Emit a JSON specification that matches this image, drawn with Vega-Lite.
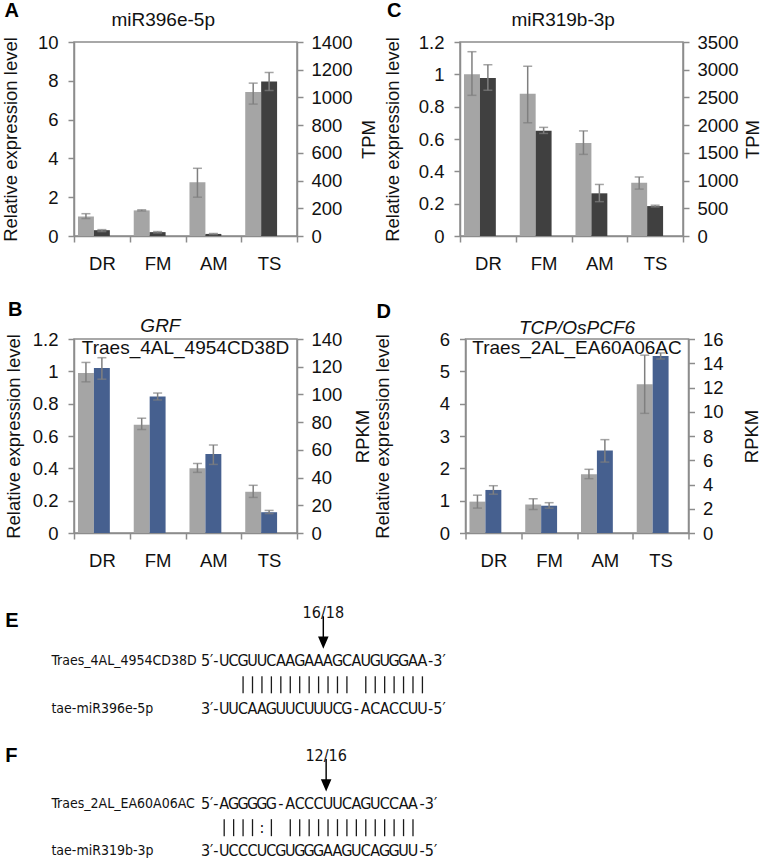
{
  "$schema": "https://vega.github.io/schema/vega-lite/v6.json",
  "padding": {"left": 0, "top": 0, "right": 0, "bottom": 0},
  "datasets": {
    "bars": [
      {"panel": "A", "stage": "DR", "series": "rel", "value": 1.0, "lo": 0.9, "hi": 1.15},
      {"panel": "A", "stage": "FM", "series": "rel", "value": 1.32, "lo": 1.29, "hi": 1.35},
      {"panel": "A", "stage": "AM", "series": "rel", "value": 2.77, "lo": 2.0, "hi": 3.49},
      {"panel": "A", "stage": "TS", "series": "rel", "value": 7.42, "lo": 6.8, "hi": 7.88},
      {"panel": "A", "stage": "DR", "series": "seq", "value": 42, "lo": 32, "hi": 46},
      {"panel": "A", "stage": "FM", "series": "seq", "value": 28, "lo": 22, "hi": 32},
      {"panel": "A", "stage": "AM", "series": "seq", "value": 15, "lo": 11, "hi": 18},
      {"panel": "A", "stage": "TS", "series": "seq", "value": 1115, "lo": 1050, "hi": 1180},
      {"panel": "C", "stage": "DR", "series": "rel", "value": 1.0, "lo": 0.87, "hi": 1.14},
      {"panel": "C", "stage": "FM", "series": "rel", "value": 0.88, "lo": 0.7, "hi": 1.05},
      {"panel": "C", "stage": "AM", "series": "rel", "value": 0.575, "lo": 0.505, "hi": 0.65},
      {"panel": "C", "stage": "TS", "series": "rel", "value": 0.33, "lo": 0.29, "hi": 0.365},
      {"panel": "C", "stage": "DR", "series": "seq", "value": 2850, "lo": 2630, "hi": 3090},
      {"panel": "C", "stage": "FM", "series": "seq", "value": 1900, "lo": 1850, "hi": 1960},
      {"panel": "C", "stage": "AM", "series": "seq", "value": 770, "lo": 620, "hi": 930},
      {"panel": "C", "stage": "TS", "series": "seq", "value": 540, "lo": 525, "hi": 555},
      {"panel": "B", "stage": "DR", "series": "rel", "value": 0.99, "lo": 0.935, "hi": 1.055},
      {"panel": "B", "stage": "FM", "series": "rel", "value": 0.67, "lo": 0.64, "hi": 0.71},
      {"panel": "B", "stage": "AM", "series": "rel", "value": 0.4, "lo": 0.375, "hi": 0.43},
      {"panel": "B", "stage": "TS", "series": "rel", "value": 0.255, "lo": 0.22, "hi": 0.295},
      {"panel": "B", "stage": "DR", "series": "seq", "value": 119, "lo": 111, "hi": 126.5},
      {"panel": "B", "stage": "FM", "series": "seq", "value": 98.5, "lo": 96, "hi": 101},
      {"panel": "B", "stage": "AM", "series": "seq", "value": 57, "lo": 49.5, "hi": 63.5},
      {"panel": "B", "stage": "TS", "series": "seq", "value": 15, "lo": 14, "hi": 16.3},
      {"panel": "D", "stage": "DR", "series": "rel", "value": 0.97, "lo": 0.77, "hi": 1.17},
      {"panel": "D", "stage": "FM", "series": "rel", "value": 0.88, "lo": 0.73, "hi": 1.06},
      {"panel": "D", "stage": "AM", "series": "rel", "value": 1.82, "lo": 1.68, "hi": 1.97},
      {"panel": "D", "stage": "TS", "series": "rel", "value": 4.6, "lo": 3.7, "hi": 5.5},
      {"panel": "D", "stage": "DR", "series": "seq", "value": 3.55, "lo": 3.2, "hi": 3.9},
      {"panel": "D", "stage": "FM", "series": "seq", "value": 2.25, "lo": 2.05, "hi": 2.5},
      {"panel": "D", "stage": "AM", "series": "seq", "value": 6.8, "lo": 5.85, "hi": 7.7},
      {"panel": "D", "stage": "TS", "series": "seq", "value": 14.6, "lo": 14.35, "hi": 14.85}
    ],
    "align": [
      {"k": "L", "line": 0.3, "col": -23.2, "t": "E"},
      {"k": "c", "line": 0, "col": 10.5, "t": "16/18"},
      {"k": "a", "line": 1, "col": 10.5, "t": ""},
      {"k": "n", "line": 2, "col": -18.3, "t": "Traes_4AL_4954CD38D"},
      {"k": "r", "line": 2, "col": -0.6, "t": "5′-"},
      {"k": "c", "line": 2, "col": 0, "t": "U"}, {"k": "c", "line": 2, "col": 1, "t": "C"},
      {"k": "c", "line": 2, "col": 2, "t": "G"}, {"k": "c", "line": 2, "col": 3, "t": "U"},
      {"k": "c", "line": 2, "col": 4, "t": "U"}, {"k": "c", "line": 2, "col": 5, "t": "C"},
      {"k": "c", "line": 2, "col": 6, "t": "A"}, {"k": "c", "line": 2, "col": 7, "t": "A"},
      {"k": "c", "line": 2, "col": 8, "t": "G"}, {"k": "c", "line": 2, "col": 9, "t": "A"},
      {"k": "c", "line": 2, "col": 10, "t": "A"}, {"k": "c", "line": 2, "col": 11, "t": "A"},
      {"k": "c", "line": 2, "col": 12, "t": "G"}, {"k": "c", "line": 2, "col": 13, "t": "C"},
      {"k": "c", "line": 2, "col": 14, "t": "A"}, {"k": "c", "line": 2, "col": 15, "t": "U"},
      {"k": "c", "line": 2, "col": 16, "t": "G"}, {"k": "c", "line": 2, "col": 17, "t": "U"},
      {"k": "c", "line": 2, "col": 18, "t": "G"}, {"k": "c", "line": 2, "col": 19, "t": "G"},
      {"k": "c", "line": 2, "col": 20, "t": "A"}, {"k": "c", "line": 2, "col": 21, "t": "A"},
      {"k": "l", "line": 2, "col": 21.6, "t": "-3′"},
      {"k": "p", "line": 3, "col": 2, "t": "|"}, {"k": "p", "line": 3, "col": 3, "t": "|"},
      {"k": "p", "line": 3, "col": 4, "t": "|"}, {"k": "p", "line": 3, "col": 5, "t": "|"},
      {"k": "p", "line": 3, "col": 6, "t": "|"}, {"k": "p", "line": 3, "col": 7, "t": "|"},
      {"k": "p", "line": 3, "col": 8, "t": "|"}, {"k": "p", "line": 3, "col": 9, "t": "|"},
      {"k": "p", "line": 3, "col": 10, "t": "|"}, {"k": "p", "line": 3, "col": 11, "t": "|"},
      {"k": "p", "line": 3, "col": 12, "t": "|"}, {"k": "p", "line": 3, "col": 13, "t": "|"},
      {"k": "p", "line": 3, "col": 15, "t": "|"}, {"k": "p", "line": 3, "col": 16, "t": "|"},
      {"k": "p", "line": 3, "col": 17, "t": "|"}, {"k": "p", "line": 3, "col": 18, "t": "|"},
      {"k": "p", "line": 3, "col": 19, "t": "|"}, {"k": "p", "line": 3, "col": 20, "t": "|"},
      {"k": "p", "line": 3, "col": 21, "t": "|"},
      {"k": "n", "line": 4, "col": -18.3, "t": "tae-miR396e-5p"},
      {"k": "r", "line": 4, "col": -0.6, "t": "3′-"},
      {"k": "c", "line": 4, "col": 0, "t": "U"}, {"k": "c", "line": 4, "col": 1, "t": "U"},
      {"k": "c", "line": 4, "col": 2, "t": "C"}, {"k": "c", "line": 4, "col": 3, "t": "A"},
      {"k": "c", "line": 4, "col": 4, "t": "A"}, {"k": "c", "line": 4, "col": 5, "t": "G"},
      {"k": "c", "line": 4, "col": 6, "t": "U"}, {"k": "c", "line": 4, "col": 7, "t": "U"},
      {"k": "c", "line": 4, "col": 8, "t": "C"}, {"k": "c", "line": 4, "col": 9, "t": "U"},
      {"k": "c", "line": 4, "col": 10, "t": "U"}, {"k": "c", "line": 4, "col": 11, "t": "U"},
      {"k": "c", "line": 4, "col": 12, "t": "C"}, {"k": "c", "line": 4, "col": 13, "t": "G"},
      {"k": "c", "line": 4, "col": 14, "t": "-"}, {"k": "c", "line": 4, "col": 15, "t": "A"},
      {"k": "c", "line": 4, "col": 16, "t": "C"}, {"k": "c", "line": 4, "col": 17, "t": "A"},
      {"k": "c", "line": 4, "col": 18, "t": "C"}, {"k": "c", "line": 4, "col": 19, "t": "C"},
      {"k": "c", "line": 4, "col": 20, "t": "U"}, {"k": "c", "line": 4, "col": 21, "t": "U"},
      {"k": "l", "line": 4, "col": 21.6, "t": "-5′"},
      {"k": "L", "line": 6, "col": -23.2, "t": "F"},
      {"k": "c", "line": 6, "col": 10.8, "t": "12/16"},
      {"k": "a", "line": 7, "col": 10.8, "t": ""},
      {"k": "n", "line": 8, "col": -18.3, "t": "Traes_2AL_EA60A06AC"},
      {"k": "r", "line": 8, "col": -0.6, "t": "5′-"},
      {"k": "c", "line": 8, "col": 0, "t": "A"}, {"k": "c", "line": 8, "col": 1, "t": "G"},
      {"k": "c", "line": 8, "col": 2, "t": "G"}, {"k": "c", "line": 8, "col": 3, "t": "G"},
      {"k": "c", "line": 8, "col": 4, "t": "G"}, {"k": "c", "line": 8, "col": 5, "t": "G"},
      {"k": "c", "line": 8, "col": 6, "t": "-"}, {"k": "c", "line": 8, "col": 7, "t": "A"},
      {"k": "c", "line": 8, "col": 8, "t": "C"}, {"k": "c", "line": 8, "col": 9, "t": "C"},
      {"k": "c", "line": 8, "col": 10, "t": "C"}, {"k": "c", "line": 8, "col": 11, "t": "U"},
      {"k": "c", "line": 8, "col": 12, "t": "U"}, {"k": "c", "line": 8, "col": 13, "t": "C"},
      {"k": "c", "line": 8, "col": 14, "t": "A"}, {"k": "c", "line": 8, "col": 15, "t": "G"},
      {"k": "c", "line": 8, "col": 16, "t": "U"}, {"k": "c", "line": 8, "col": 17, "t": "C"},
      {"k": "c", "line": 8, "col": 18, "t": "C"}, {"k": "c", "line": 8, "col": 19, "t": "A"},
      {"k": "c", "line": 8, "col": 20, "t": "A"},
      {"k": "l", "line": 8, "col": 20.7, "t": "-3′"},
      {"k": "p", "line": 9, "col": 0, "t": "|"}, {"k": "p", "line": 9, "col": 1, "t": "|"},
      {"k": "p", "line": 9, "col": 2, "t": "|"}, {"k": "p", "line": 9, "col": 3, "t": "|"},
      {"k": "c", "line": 9, "col": 4, "t": ":"}, {"k": "p", "line": 9, "col": 5, "t": "|"},
      {"k": "p", "line": 9, "col": 7, "t": "|"}, {"k": "p", "line": 9, "col": 8, "t": "|"},
      {"k": "p", "line": 9, "col": 9, "t": "|"}, {"k": "p", "line": 9, "col": 10, "t": "|"},
      {"k": "p", "line": 9, "col": 11, "t": "|"}, {"k": "p", "line": 9, "col": 12, "t": "|"},
      {"k": "p", "line": 9, "col": 13, "t": "|"}, {"k": "p", "line": 9, "col": 14, "t": "|"},
      {"k": "p", "line": 9, "col": 15, "t": "|"}, {"k": "p", "line": 9, "col": 16, "t": "|"},
      {"k": "p", "line": 9, "col": 17, "t": "|"}, {"k": "p", "line": 9, "col": 18, "t": "|"},
      {"k": "p", "line": 9, "col": 19, "t": "|"}, {"k": "p", "line": 9, "col": 20, "t": "|"},
      {"k": "n", "line": 10, "col": -18.3, "t": "tae-miR319b-3p"},
      {"k": "r", "line": 10, "col": -0.6, "t": "3′-"},
      {"k": "c", "line": 10, "col": 0, "t": "U"}, {"k": "c", "line": 10, "col": 1, "t": "C"},
      {"k": "c", "line": 10, "col": 2, "t": "C"}, {"k": "c", "line": 10, "col": 3, "t": "C"},
      {"k": "c", "line": 10, "col": 4, "t": "U"}, {"k": "c", "line": 10, "col": 5, "t": "C"},
      {"k": "c", "line": 10, "col": 6, "t": "G"}, {"k": "c", "line": 10, "col": 7, "t": "U"},
      {"k": "c", "line": 10, "col": 8, "t": "G"}, {"k": "c", "line": 10, "col": 9, "t": "G"},
      {"k": "c", "line": 10, "col": 10, "t": "G"}, {"k": "c", "line": 10, "col": 11, "t": "A"},
      {"k": "c", "line": 10, "col": 12, "t": "A"}, {"k": "c", "line": 10, "col": 13, "t": "G"},
      {"k": "c", "line": 10, "col": 14, "t": "U"}, {"k": "c", "line": 10, "col": 15, "t": "C"},
      {"k": "c", "line": 10, "col": 16, "t": "A"}, {"k": "c", "line": 10, "col": 17, "t": "G"},
      {"k": "c", "line": 10, "col": 18, "t": "G"}, {"k": "c", "line": 10, "col": 19, "t": "U"},
      {"k": "c", "line": 10, "col": 20, "t": "U"},
      {"k": "l", "line": 10, "col": 20.7, "t": "-5′"}
    ]
  },
  "vconcat": [
    {
      "vconcat": [
        {
          "hconcat": [
            {
              "width": 223, "height": 194,
              "title": {"text": "A", "offset": -10},
              "layer": [
                {
                  "data": {"name": "bars"},
                  "transform": [{"filter": "datum.panel === 'A' && datum.series === 'rel'"}],
                  "encoding": {
                    "x": {"field": "stage", "type": "nominal", "scale": {"domain": ["DR", "FM", "AM", "TS"], "paddingInner": 0, "paddingOuter": 0}, "axis": {"title": null, "labelAngle": 0, "tickBand": "extent", "labelPadding": 12}},
                    "xOffset": {"field": "series", "type": "nominal", "scale": {"domain": ["rel", "seq", "gap"], "paddingInner": 0, "paddingOuter": 0.25}},
                    "y": {"field": "value", "type": "quantitative", "scale": {"domain": [0, 10], "nice": false}, "axis": {"title": "Relative expression level", "values": [0, 2, 4, 6, 8, 10], "format": "d", "labelPadding": 10, "labelOverlap": false, "titlePadding": 16.9}}
                  },
                  "layer": [
                    {"mark": {"type": "bar", "color": "#a5a5a5"}},
                    {"mark": {"type": "rule", "color": "#7f7f7f", "strokeWidth": 1.5}, "encoding": {"y": {"field": "lo", "type": "quantitative"}, "y2": {"field": "hi"}}},
                    {"mark": {"type": "tick", "color": "#7f7f7f", "size": 9, "thickness": 1.5}, "encoding": {"y": {"field": "lo", "type": "quantitative"}}},
                    {"mark": {"type": "tick", "color": "#7f7f7f", "size": 9, "thickness": 1.5}, "encoding": {"y": {"field": "hi", "type": "quantitative"}}}
                  ]
                },
                {
                  "data": {"name": "bars"},
                  "transform": [{"filter": "datum.panel === 'A' && datum.series === 'seq'"}],
                  "encoding": {
                    "x": {"field": "stage", "type": "nominal"},
                    "xOffset": {"field": "series", "type": "nominal"},
                    "y": {"field": "value", "type": "quantitative", "scale": {"domain": [0, 1400], "nice": false}, "axis": {"orient": "right", "title": "TPM", "values": [0, 200, 400, 600, 800, 1000, 1200, 1400], "format": "d", "labelPadding": 8, "labelOverlap": false, "titleAngle": 270, "titleBaseline": "top", "titlePadding": 7}}
                  },
                  "layer": [
                    {"mark": {"type": "bar", "color": "#404040"}},
                    {"mark": {"type": "rule", "color": "#7f7f7f", "strokeWidth": 1.5}, "encoding": {"y": {"field": "lo", "type": "quantitative"}, "y2": {"field": "hi"}}},
                    {"mark": {"type": "tick", "color": "#7f7f7f", "size": 9, "thickness": 1.5}, "encoding": {"y": {"field": "lo", "type": "quantitative"}}},
                    {"mark": {"type": "tick", "color": "#7f7f7f", "size": 9, "thickness": 1.5}, "encoding": {"y": {"field": "hi", "type": "quantitative"}}}
                  ]
                },
                {
                  "data": {"values": [{"t": "miR396e-5p"}]},
                  "mark": {"type": "text", "fontSize": 19, "baseline": "alphabetic", "dy": -16, "color": "#111"},
                  "encoding": {
                    "x": {"datum": "FM", "type": "nominal", "bandPosition": 0.6},
                    "y": {"datum": 1, "type": "quantitative", "scale": {"domain": [0, 1]}, "axis": null},
                    "text": {"field": "t"}
                  }
                }
              ],
              "resolve": {"scale": {"y": "independent"}}
            },
            {
              "width": 223, "height": 194,
              "title": {"text": "C", "offset": -10},
              "layer": [
                {
                  "data": {"name": "bars"},
                  "transform": [{"filter": "datum.panel === 'C' && datum.series === 'rel'"}],
                  "encoding": {
                    "x": {"field": "stage", "type": "nominal", "scale": {"domain": ["DR", "FM", "AM", "TS"], "paddingInner": 0, "paddingOuter": 0}, "axis": {"title": null, "labelAngle": 0, "tickBand": "extent", "labelPadding": 12}},
                    "xOffset": {"field": "series", "type": "nominal", "scale": {"domain": ["rel", "seq", "gap"], "paddingInner": 0, "paddingOuter": 0.25}},
                    "y": {"field": "value", "type": "quantitative", "scale": {"domain": [0, 1.2], "nice": false}, "axis": {"title": "Relative expression level", "values": [0, 0.2, 0.4, 0.6, 0.8, 1, 1.2], "format": "~g", "labelPadding": 10, "labelOverlap": false, "titlePadding": 15.3}}
                  },
                  "layer": [
                    {"mark": {"type": "bar", "color": "#a5a5a5"}},
                    {"mark": {"type": "rule", "color": "#7f7f7f", "strokeWidth": 1.5}, "encoding": {"y": {"field": "lo", "type": "quantitative"}, "y2": {"field": "hi"}}},
                    {"mark": {"type": "tick", "color": "#7f7f7f", "size": 9, "thickness": 1.5}, "encoding": {"y": {"field": "lo", "type": "quantitative"}}},
                    {"mark": {"type": "tick", "color": "#7f7f7f", "size": 9, "thickness": 1.5}, "encoding": {"y": {"field": "hi", "type": "quantitative"}}}
                  ]
                },
                {
                  "data": {"name": "bars"},
                  "transform": [{"filter": "datum.panel === 'C' && datum.series === 'seq'"}],
                  "encoding": {
                    "x": {"field": "stage", "type": "nominal"},
                    "xOffset": {"field": "series", "type": "nominal"},
                    "y": {"field": "value", "type": "quantitative", "scale": {"domain": [0, 3500], "nice": false}, "axis": {"orient": "right", "title": "TPM", "values": [0, 500, 1000, 1500, 2000, 2500, 3000, 3500], "format": "d", "labelPadding": 8, "labelOverlap": false, "titleAngle": 270, "titleBaseline": "top", "titlePadding": 5.5}}
                  },
                  "layer": [
                    {"mark": {"type": "bar", "color": "#404040"}},
                    {"mark": {"type": "rule", "color": "#7f7f7f", "strokeWidth": 1.5}, "encoding": {"y": {"field": "lo", "type": "quantitative"}, "y2": {"field": "hi"}}},
                    {"mark": {"type": "tick", "color": "#7f7f7f", "size": 9, "thickness": 1.5}, "encoding": {"y": {"field": "lo", "type": "quantitative"}}},
                    {"mark": {"type": "tick", "color": "#7f7f7f", "size": 9, "thickness": 1.5}, "encoding": {"y": {"field": "hi", "type": "quantitative"}}}
                  ]
                },
                {
                  "data": {"values": [{"t": "miR319b-3p"}]},
                  "mark": {"type": "text", "fontSize": 19, "baseline": "alphabetic", "dy": -16, "color": "#111"},
                  "encoding": {
                    "x": {"datum": "FM", "type": "nominal", "bandPosition": 0.85},
                    "y": {"datum": 1, "type": "quantitative", "scale": {"domain": [0, 1]}, "axis": null},
                    "text": {"field": "t"}
                  }
                }
              ],
              "resolve": {"scale": {"y": "independent"}}
            }
          ],
          "spacing": 4
        },
        {
          "hconcat": [
            {
              "width": 223, "height": 194,
              "title": {"text": "B", "offset": -3},
              "layer": [
                {
                  "data": {"name": "bars"},
                  "transform": [{"filter": "datum.panel === 'B' && datum.series === 'rel'"}],
                  "encoding": {
                    "x": {"field": "stage", "type": "nominal", "scale": {"domain": ["DR", "FM", "AM", "TS"], "paddingInner": 0, "paddingOuter": 0}, "axis": {"title": null, "labelAngle": 0, "tickBand": "extent", "labelPadding": 12}},
                    "xOffset": {"field": "series", "type": "nominal", "scale": {"domain": ["rel", "seq", "gap"], "paddingInner": 0, "paddingOuter": 0.25}},
                    "y": {"field": "value", "type": "quantitative", "scale": {"domain": [0, 1.2], "nice": false}, "axis": {"title": "Relative expression level", "values": [0, 0.2, 0.4, 0.6, 0.8, 1, 1.2], "format": "~g", "labelPadding": 10, "labelOverlap": false, "titlePadding": 8.3}}
                  },
                  "layer": [
                    {"mark": {"type": "bar", "color": "#a5a5a5"}},
                    {"mark": {"type": "rule", "color": "#7f7f7f", "strokeWidth": 1.5}, "encoding": {"y": {"field": "lo", "type": "quantitative"}, "y2": {"field": "hi"}}},
                    {"mark": {"type": "tick", "color": "#7f7f7f", "size": 9, "thickness": 1.5}, "encoding": {"y": {"field": "lo", "type": "quantitative"}}},
                    {"mark": {"type": "tick", "color": "#7f7f7f", "size": 9, "thickness": 1.5}, "encoding": {"y": {"field": "hi", "type": "quantitative"}}}
                  ]
                },
                {
                  "data": {"name": "bars"},
                  "transform": [{"filter": "datum.panel === 'B' && datum.series === 'seq'"}],
                  "encoding": {
                    "x": {"field": "stage", "type": "nominal"},
                    "xOffset": {"field": "series", "type": "nominal"},
                    "y": {"field": "value", "type": "quantitative", "scale": {"domain": [0, 140], "nice": false}, "axis": {"orient": "right", "title": "RPKM", "values": [0, 20, 40, 60, 80, 100, 120, 140], "format": "d", "labelPadding": 8, "labelOverlap": false, "titleAngle": 270, "titleBaseline": "top", "titlePadding": 12}}
                  },
                  "layer": [
                    {"mark": {"type": "bar", "color": "#46608f"}},
                    {"mark": {"type": "rule", "color": "#7f7f7f", "strokeWidth": 1.5}, "encoding": {"y": {"field": "lo", "type": "quantitative"}, "y2": {"field": "hi"}}},
                    {"mark": {"type": "tick", "color": "#7f7f7f", "size": 9, "thickness": 1.5}, "encoding": {"y": {"field": "lo", "type": "quantitative"}}},
                    {"mark": {"type": "tick", "color": "#7f7f7f", "size": 9, "thickness": 1.5}, "encoding": {"y": {"field": "hi", "type": "quantitative"}}}
                  ]
                },
                {
                  "data": {"values": [{"t": "GRF"}]},
                  "mark": {"type": "text", "fontSize": 19, "fontStyle": "italic", "baseline": "alphabetic", "dy": -7, "color": "#111"},
                  "encoding": {
                    "x": {"datum": "FM", "type": "nominal", "bandPosition": 0.55},
                    "y": {"datum": 1, "type": "quantitative", "scale": {"domain": [0, 1]}, "axis": null},
                    "text": {"field": "t"}
                  }
                },
                {
                  "data": {"values": [{"t": "Traes_4AL_4954CD38D"}]},
                  "mark": {"type": "text", "fontSize": 19, "baseline": "top", "dy": 0, "color": "#111"},
                  "encoding": {
                    "x": {"datum": "AM", "type": "nominal", "bandPosition": 0},
                    "y": {"datum": 1, "type": "quantitative", "scale": {"domain": [0, 1]}, "axis": null},
                    "text": {"field": "t"}
                  }
                }
              ],
              "resolve": {"scale": {"y": "independent"}}
            },
            {
              "width": 223, "height": 194,
              "title": {"text": "D", "offset": -3},
              "layer": [
                {
                  "data": {"name": "bars"},
                  "transform": [{"filter": "datum.panel === 'D' && datum.series === 'rel'"}],
                  "encoding": {
                    "x": {"field": "stage", "type": "nominal", "scale": {"domain": ["DR", "FM", "AM", "TS"], "paddingInner": 0, "paddingOuter": 0}, "axis": {"title": null, "labelAngle": 0, "tickBand": "extent", "labelPadding": 12}},
                    "xOffset": {"field": "series", "type": "nominal", "scale": {"domain": ["rel", "seq", "gap"], "paddingInner": 0, "paddingOuter": 0.25}},
                    "y": {"field": "value", "type": "quantitative", "scale": {"domain": [0, 6], "nice": false}, "axis": {"title": "Relative expression level", "values": [0, 1, 2, 3, 4, 5, 6], "format": "d", "labelPadding": 10, "labelOverlap": false, "titlePadding": 46.7}}
                  },
                  "layer": [
                    {"mark": {"type": "bar", "color": "#a5a5a5"}},
                    {"mark": {"type": "rule", "color": "#7f7f7f", "strokeWidth": 1.5}, "encoding": {"y": {"field": "lo", "type": "quantitative"}, "y2": {"field": "hi"}}},
                    {"mark": {"type": "tick", "color": "#7f7f7f", "size": 9, "thickness": 1.5}, "encoding": {"y": {"field": "lo", "type": "quantitative"}}},
                    {"mark": {"type": "tick", "color": "#7f7f7f", "size": 9, "thickness": 1.5}, "encoding": {"y": {"field": "hi", "type": "quantitative"}}}
                  ]
                },
                {
                  "data": {"name": "bars"},
                  "transform": [{"filter": "datum.panel === 'D' && datum.series === 'seq'"}],
                  "encoding": {
                    "x": {"field": "stage", "type": "nominal"},
                    "xOffset": {"field": "series", "type": "nominal"},
                    "y": {"field": "value", "type": "quantitative", "scale": {"domain": [0, 16], "nice": false}, "axis": {"orient": "right", "title": "RPKM", "values": [0, 2, 4, 6, 8, 10, 12, 14, 16], "format": "d", "labelPadding": 8, "labelOverlap": false, "titleAngle": 270, "titleBaseline": "top", "titlePadding": 19}}
                  },
                  "layer": [
                    {"mark": {"type": "bar", "color": "#46608f"}},
                    {"mark": {"type": "rule", "color": "#7f7f7f", "strokeWidth": 1.5}, "encoding": {"y": {"field": "lo", "type": "quantitative"}, "y2": {"field": "hi"}}},
                    {"mark": {"type": "tick", "color": "#7f7f7f", "size": 9, "thickness": 1.5}, "encoding": {"y": {"field": "lo", "type": "quantitative"}}},
                    {"mark": {"type": "tick", "color": "#7f7f7f", "size": 9, "thickness": 1.5}, "encoding": {"y": {"field": "hi", "type": "quantitative"}}}
                  ]
                },
                {
                  "data": {"values": [{"t": "TCP/OsPCF6"}]},
                  "mark": {"type": "text", "fontSize": 19, "fontStyle": "italic", "baseline": "alphabetic", "dy": -5, "color": "#111"},
                  "encoding": {
                    "x": {"datum": "AM", "type": "nominal", "bandPosition": 0},
                    "y": {"datum": 1, "type": "quantitative", "scale": {"domain": [0, 1]}, "axis": null},
                    "text": {"field": "t"}
                  }
                },
                {
                  "data": {"values": [{"t": "Traes_2AL_EA60A06AC"}]},
                  "mark": {"type": "text", "fontSize": 19, "baseline": "top", "dy": 0, "color": "#111"},
                  "encoding": {
                    "x": {"datum": "AM", "type": "nominal", "bandPosition": 0},
                    "y": {"datum": 1, "type": "quantitative", "scale": {"domain": [0, 1]}, "axis": null},
                    "text": {"field": "t"}
                  }
                }
              ],
              "resolve": {"scale": {"y": "independent"}}
            }
          ],
          "spacing": -1.5
        }
      ],
      "spacing": 25
    },
    {
      "width": 686, "height": 272,
      "data": {"name": "align"},
      "view": {"stroke": null},
      "encoding": {
        "x": {"field": "col", "type": "quantitative", "scale": {"domain": [-15.91, 56.76], "nice": false, "zero": false}, "axis": null},
        "y": {"field": "line", "type": "quantitative", "scale": {"domain": [-1.025, 10.4], "reverse": true, "nice": false, "zero": false}, "axis": null}
      },
      "layer": [
        {"transform": [{"filter": "datum.k === 'c'"}], "mark": {"type": "text", "font": "Liberation Sans Narrow, DejaVu Sans Condensed, sans-serif", "fontSize": 16, "align": "center", "baseline": "middle", "color": "#111"}, "encoding": {"text": {"field": "t"}}},
        {"transform": [{"filter": "datum.k === 'p'"}], "mark": {"type": "tick", "orient": "vertical", "size": 17, "thickness": 1.3, "color": "#1a1a1a", "opacity": 1}},
        {"transform": [{"filter": "datum.k === 'n'"}], "mark": {"type": "text", "font": "Liberation Sans Narrow, DejaVu Sans Condensed, sans-serif", "fontSize": 14, "align": "left", "baseline": "middle", "color": "#111"}, "encoding": {"text": {"field": "t"}}},
        {"transform": [{"filter": "datum.k === 'l'"}], "mark": {"type": "text", "font": "Liberation Sans Narrow, DejaVu Sans Condensed, sans-serif", "fontSize": 16, "align": "left", "baseline": "middle", "color": "#111"}, "encoding": {"text": {"field": "t"}}},
        {"transform": [{"filter": "datum.k === 'r'"}], "mark": {"type": "text", "font": "Liberation Sans Narrow, DejaVu Sans Condensed, sans-serif", "fontSize": 16, "align": "right", "baseline": "middle", "color": "#111"}, "encoding": {"text": {"field": "t"}}},
        {"transform": [{"filter": "datum.k === 'L'"}], "mark": {"type": "text", "font": "Liberation Sans", "fontSize": 20, "fontWeight": "bold", "align": "left", "baseline": "middle", "color": "#000"}, "encoding": {"text": {"field": "t"}}},
        {"transform": [{"filter": "datum.k === 'a'"}], "mark": {"type": "point", "shape": "M-0.045,-1.31 L0.045,-1.31 L0.045,-0.05 L0.33,-0.05 L0,0.72 L-0.33,-0.05 L-0.045,-0.05 Z", "size": 1024, "filled": true, "color": "#000", "opacity": 1, "strokeWidth": 0}}
      ]
    }
  ],
  "spacing": 18,
  "config": {
    "font": "Liberation Sans",
    "view": {"stroke": "#8c8c8c", "strokeWidth": 1.5},
    "axis": {"domainColor": "#8c8c8c", "tickColor": "#8c8c8c", "domainWidth": 1.5, "tickWidth": 1.5, "tickSize": 6, "labelColor": "#111", "titleColor": "#111", "labelFont": "Liberation Sans", "titleFont": "Liberation Sans", "labelFontSize": 18.5, "titleFontSize": 18.5, "titleFontWeight": "normal", "grid": false, "labelOverlap": false},
    "title": {"fontSize": 20, "fontWeight": "bold", "font": "Liberation Sans", "color": "#000", "anchor": "start", "frame": "bounds", "dx": 3}
  }
}
